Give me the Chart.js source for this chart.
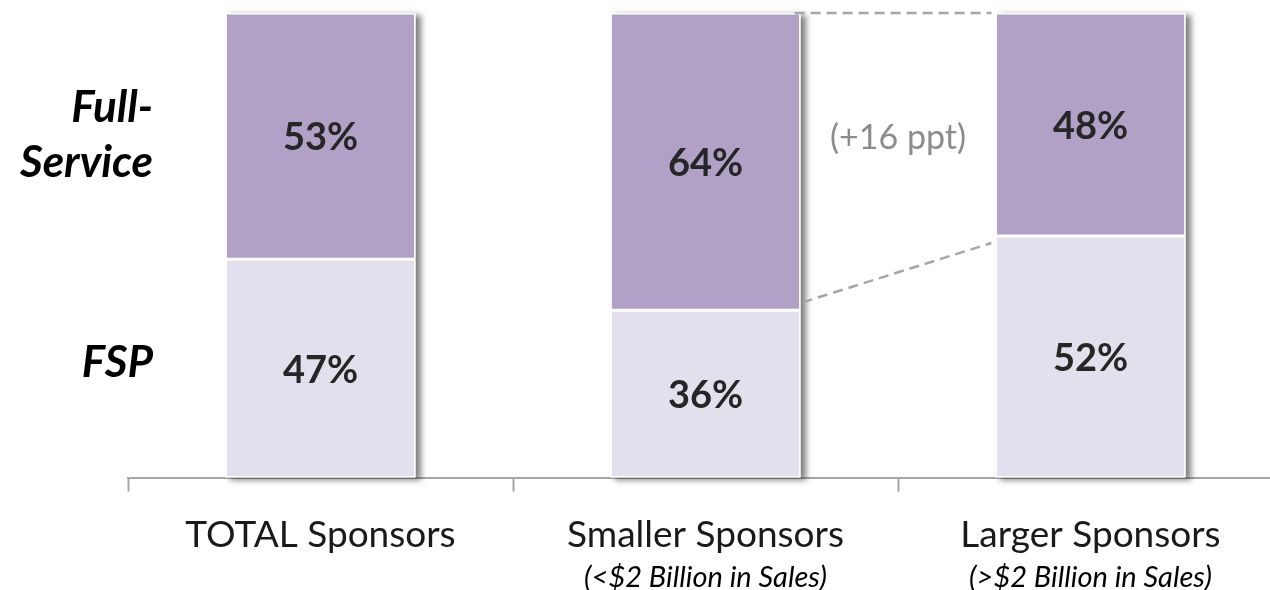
<!DOCTYPE html>
<html>
<head>
<meta charset="utf-8">
<script src="https://cdn.jsdelivr.net/npm/chart.js@4"></script>
<style>
  body { margin: 0; background: #fff; overflow: hidden; }
</style>
</head>
<body>
<canvas id="myChart" width="1300" height="590"></canvas>
<script>
let categories = ['TOTAL Sponsors', 'Smaller Sponsors', 'Larger Sponsors']
let subLabels = ['', '(<$2 Billion in Sales)', '(>$2 Billion in Sales)']
let fspValues = [47, 36, 52]
let fullServiceValues = [53, 64, 48]
let rowLabels = [['Full-', 'Service'], ['FSP']]
let gapNote = '(+16 ppt)'

let fontName = 'Lato'

// shadow behind each stacked column
let shadowPlugin = {
    id: 'shadows',
    beforeDatasetsDraw(chart) {
        let ctx = chart.ctx
        let top = chart.getDatasetMeta(1).data
        let bottom = chart.getDatasetMeta(0).data
        ctx.save()
        ctx.shadowColor = 'rgba(0,0,0,0.5)'
        ctx.shadowBlur = 6
        ctx.shadowOffsetX = 5
        ctx.shadowOffsetY = 2
        ctx.fillStyle = '#ffffff'
        top.forEach((bar, i) => {
            let w = bar.width
            ctx.fillRect(bar.x - w / 2, bar.y, w, bottom[i].base - bar.y)
        })
        ctx.restore()
    }
}

// values, row labels, dashed connectors and sub labels
let labelPlugin = {
    id: 'labels',
    afterDatasetsDraw(chart) {
        let ctx = chart.ctx
        let x = chart.scales.x
        let y = chart.scales.y
        ctx.save()
        ctx.textAlign = 'center'
        ctx.textBaseline = 'middle'
        ctx.fillStyle = '#262626'
        ctx.font = `bold 38px ${fontName}`
        categories.forEach((c, i) => {
            let cx = x.getPixelForValue(i)
            ctx.fillText(fspValues[i] + '%', cx, y.getPixelForValue(fspValues[i] / 2) + 2)
            ctx.fillText(fullServiceValues[i] + '%', cx, y.getPixelForValue(fspValues[i] + fullServiceValues[i] / 2) + 2)
        })

        // row labels on the left
        ctx.textAlign = 'right'
        ctx.fillStyle = '#000000'
        ctx.font = `italic bold 44px ${fontName}`
        let fullMid = y.getPixelForValue(fspValues[0] + fullServiceValues[0] / 2)
        ctx.fillText(rowLabels[0][0], 153, fullMid - 28)
        ctx.fillText(rowLabels[0][1], 153, fullMid + 27)
        ctx.fillText(rowLabels[1][0], 153, y.getPixelForValue(fspValues[0] / 2) - 6)

        // dashed connectors between smaller and larger sponsors
        let bars = chart.getDatasetMeta(0).data
        let x1 = x.getPixelForValue(1) + bars[1].width / 2
        let x2 = x.getPixelForValue(2) - bars[2].width / 2
        ctx.strokeStyle = '#a6a6a6'
        ctx.lineWidth = 2.5
        ctx.setLineDash([10, 6])
        ctx.beginPath()
        ctx.moveTo(x1 - 6, y.getPixelForValue(100))
        ctx.lineTo(x2 - 4, y.getPixelForValue(100))
        ctx.moveTo(x1 + 2, y.getPixelForValue(fspValues[1]) - 8)
        ctx.lineTo(x2 - 4, y.getPixelForValue(fspValues[2]) + 7)
        ctx.stroke()
        ctx.setLineDash([])

        ctx.textAlign = 'center'
        ctx.fillStyle = '#8c8c8c'
        ctx.font = `34px ${fontName}`
        ctx.fillText(gapNote, (x1 + x2) / 2, y.getPixelForValue(73))

        // italic sub labels under the categories
        ctx.fillStyle = '#000000'
        ctx.font = `italic 29px ${fontName}`
        subLabels.forEach((s, i) => {
            if (s) ctx.fillText(s, x.getPixelForValue(i), 578)
        })
        ctx.restore()
    }
}

let ctx = document.getElementById('myChart').getContext('2d')
new Chart(ctx, {
    type: 'bar',
    data: {
        labels: categories,
        datasets: [{
            label: 'FSP',
            data: fspValues,
            backgroundColor: '#e4dfec',
            borderColor: '#ffffff',
            borderWidth: 1.5,
            borderSkipped: false,
            barPercentage: 0.494,
            categoryPercentage: 1
        }, {
            label: 'Full-Service',
            data: fullServiceValues,
            backgroundColor: '#b2a1c7',
            borderColor: '#ffffff',
            borderWidth: 1.5,
            borderSkipped: false,
            barPercentage: 0.494,
            categoryPercentage: 1
        }]
    },
    options: {
        responsive: false,
        animation: false,
        layout: {
            padding: { left: 128, right: 17, top: 13, bottom: 12 }
        },
        plugins: {
            legend: { display: false },
            tooltip: { enabled: false }
        },
        scales: {
            x: {
                stacked: true,
                border: { display: true, color: '#a6a6a6', width: 2 },
                grid: {
                    display: true,
                    offset: true,
                    drawOnChartArea: false,
                    drawTicks: true,
                    tickLength: 14,
                    tickWidth: 2,
                    color: '#a6a6a6'
                },
                ticks: {
                    color: '#1a1a1a',
                    padding: 21,
                    font: { family: fontName, size: 37 },
                    maxRotation: 0,
                    autoSkip: false
                }
            },
            y: {
                stacked: true,
                display: false,
                min: 0,
                max: 100
            }
        }
    },
    plugins: [shadowPlugin, labelPlugin]
})
</script>
</body>
</html>
